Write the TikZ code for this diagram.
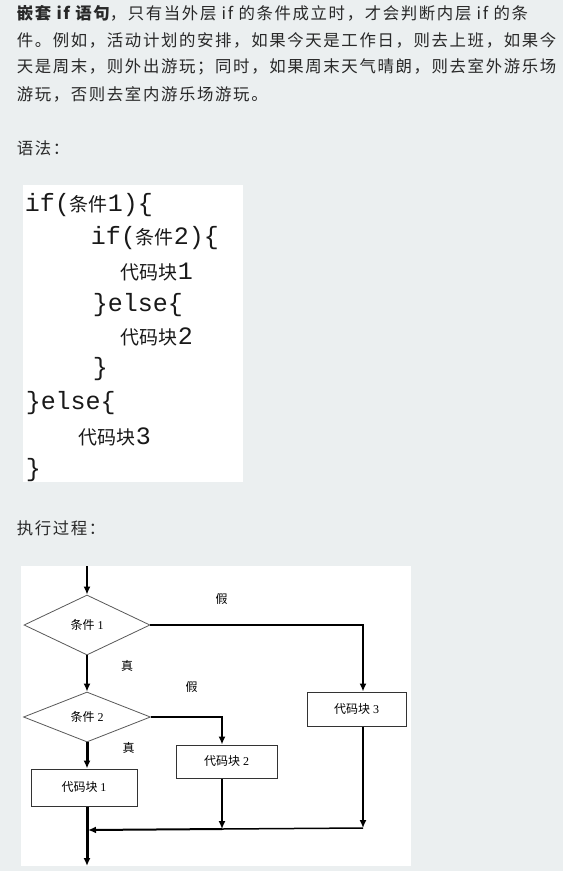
\documentclass[tikz,border=0pt]{standalone}
\usepackage{fontspec}
\setmainfont{Liberation Serif}
\setmonofont{Liberation Mono}
\newfontfamily\cjk{Noto Sans CJK SC}
\newfontfamily\cjkwide[LetterSpace=10]{Noto Sans CJK SC}
\usetikzlibrary{shapes.geometric,arrows.meta}
\definecolor{pagebg}{RGB}{235,239,240}
\definecolor{bodytext}{RGB}{40,40,40}
\newcommand\codezh[1]{{\fontsize{19}{19}\selectfont\cjk #1}}

\begin{document}
\begin{tikzpicture}[x=1pt, y=-1pt, >={Latex[length=8pt,width=7pt]}, line width=1.5pt,
    text line/.style={anchor=west, inner sep=0pt, text=bodytext, font=\fontsize{16.4}{16.4}\selectfont\cjkwide},
    code line/.style={anchor=west, inner sep=0pt, text=black!90, font=\fontsize{25}{25}\selectfont\ttfamily},
    cond node/.style={diamond, aspect=2, draw=black!65, line width=0.8pt, inner sep=0pt, font=\fontsize{12}{12}\selectfont},
    block node/.style={rectangle, draw=black!80, line width=1pt, inner sep=0pt, font=\fontsize{12}{12}\selectfont},
    tag node/.style={inner sep=0pt, font=\fontsize{12}{12}\selectfont\cjk}]
    \fill[pagebg] (0,0) rectangle (563,871);

    % text
    \node[text line] (p1) at (16,13) {{\bfseries 嵌套 if 语句}，只有当外层 if 的条件成立时，才会判断内层 if 的条};
    \node[text line] (p2) at (16,40) {件。例如，活动计划的安排，如果今天是工作日，则去上班，如果今};
    \node[text line] (p3) at (16,67) {天是周末，则外出游玩；同时，如果周末天气晴朗，则去室外游乐场};
    \node[text line] (p4) at (16,94) {游玩，否则去室内游乐场游玩。};
    \node[text line] (syntax) at (16,148) {语法：};

    % code
    \fill[white] (22.7,185) rectangle (242.7,481.7);
    \node[code line] (l1) at (24,205) {if(\codezh{条件}1)\{};
    \node[code line] (l2) at (90,238) {if(\codezh{条件}2)\{};
    \node[code line] (l3) at (120,272) {\codezh{代码块}1};
    \node[code line] (l4) at (92,305) {\}else\{};
    \node[code line] (l5) at (120,337) {\codezh{代码块}2};
    \node[code line] (l6) at (92,369) {\}};
    \node[code line] (l7) at (25,403) {\}else\{};
    \node[code line] (l8) at (78,437) {\codezh{代码块}3};
    \node[code line] (l9) at (25,470) {\}};

    \node[text line] (process) at (16,528) {执行过程：};

    % flow chart
    \fill[white] (21,566) rectangle (411,866);
    \coordinate (in) at (87,566);
    \node[cond node, minimum width=126pt, minimum height=60pt] (c1) at (87,625) {{\cjk 条件} 1};
    \node[cond node, minimum width=127pt, minimum height=50pt] (c2) at (87,717) {{\cjk 条件} 2};
    \node[block node, minimum width=106pt, minimum height=37pt] (b1) at (84,787.5) {{\cjk 代码块} 1};
    \node[block node, minimum width=101pt, minimum height=33pt] (b2) at (226.5,761.5) {{\cjk 代码块} 2};
    \node[block node, minimum width=99pt, minimum height=34pt] (b3) at (356.5,709) {{\cjk 代码块} 3};
    \node[tag node] (f1) at (221.7,599) {假};
    \node[tag node] (t1) at (127,666) {真};
    \node[tag node] (f2) at (191.5,687) {假};
    \node[tag node] (t2) at (128.5,748) {真};
    \coordinate (out) at (87,866);
    \coordinate (j1) at (88,830);
    \coordinate (j2) at (222,829);
    \coordinate (j3) at (363,828);

    \draw[->] (in) -- (c1.north);
    \draw[->] (c1.south) -- (c2.north);
    \draw[->] (c1.east) -| ([xshift=6.5pt]b3.north);
    \draw[->] (c2.east) -| ([xshift=-4.5pt]b2.north);
    \draw[->, line width=3pt] (c2.south) -- (c2.south |- b1.north);
    \draw[->, line width=3pt] (c2.south |- b1.south) -- (out);
    \draw[->] ([xshift=-4.5pt]b2.south) -- (j2);
    \draw[->] ([xshift=6.5pt]b3.south) -- (j3);
    \draw (j3) -- (j2);
    \draw[->, line width=2pt] (j2) -- (j1);
\end{tikzpicture}
\end{document}
